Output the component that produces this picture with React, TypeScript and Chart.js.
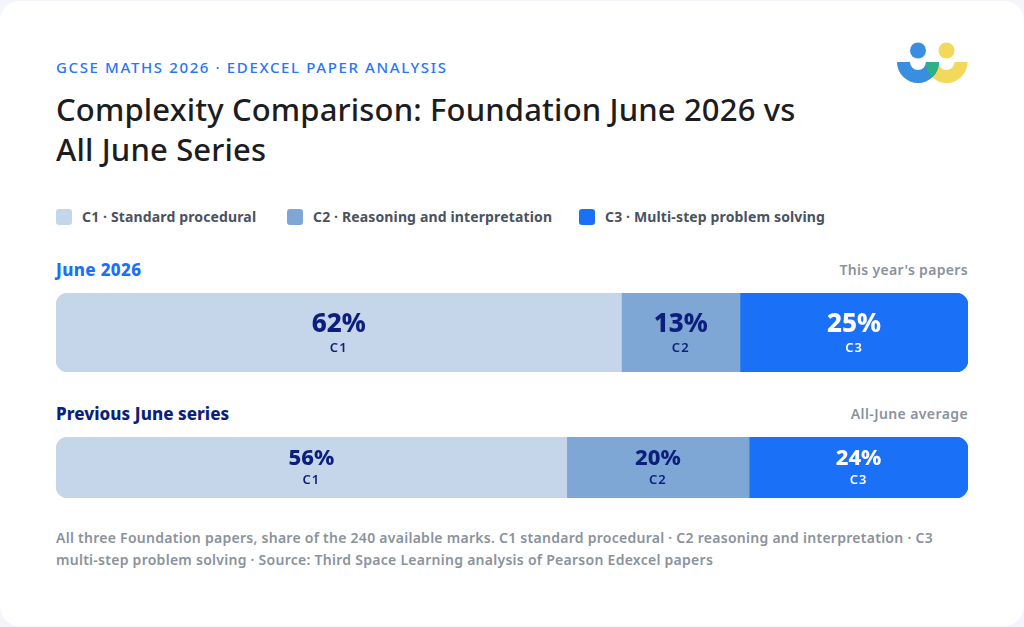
import { useEffect, useRef } from 'react';
import { Chart, registerables } from 'chart.js';
import type { Plugin } from 'chart.js';

Chart.register(...registerables);

const FONT = '"Noto Sans", sans-serif';

const BANDS = ['C1', 'C2', 'C3'];
const BAND_NAMES = ['Standard procedural', 'Reasoning and interpretation', 'Multi-step problem solving'];
const BAND_COLORS = ['#c5d5ea', '#7fa7d6', '#1b70f8'];
const LABEL_COLORS = ['#0d1f7c', '#0d1f7c', '#ffffff'];

const JUNE_2026 = [62, 13, 25];
const PREVIOUS_JUNE = [56, 20, 24];

// one canvas per bar, the two rows have different heights
function StackedBar({
  name,
  values,
  top,
  height,
  valueSize,
  valueOffset,
  bandOffset,
}: {
  name: string;
  values: number[];
  top: number;
  height: number;
  valueSize: number;
  valueOffset: number;
  bandOffset: number;
}) {
  const canvasRef = useRef<HTMLCanvasElement | null>(null);

  useEffect(() => {
    const canvas = canvasRef.current;
    if (!canvas) return;

    const segmentLabels: Plugin<'bar'> = {
      id: 'segmentLabels',
      afterDatasetsDraw(chart) {
        const ctx = chart.ctx;
        ctx.save();
        ctx.textAlign = 'center';
        ctx.textBaseline = 'middle';
        chart.data.datasets.forEach((ds, i) => {
          const bar = chart.getDatasetMeta(i).data[0] as any;
          const x = bar.base + (bar.x - bar.base) / 2;
          ctx.fillStyle = LABEL_COLORS[i];
          ctx.font = `800 ${valueSize}px ${FONT}`;
          ctx.fillText(`${ds.data[0]}%`, x, bar.y + valueOffset);
          ctx.font = `600 13px ${FONT}`;
          (ctx as any).letterSpacing = '1px';
          ctx.fillText(BANDS[i], x, bar.y + bandOffset);
          (ctx as any).letterSpacing = '0px';
        });
        ctx.restore();
      },
    };

    const chart = new Chart(canvas, {
      type: 'bar',
      data: {
        labels: [name],
        datasets: BANDS.map((band, i) => ({
          label: band,
          data: [values[i]],
          backgroundColor: BAND_COLORS[i],
          borderWidth: 0,
          borderSkipped: false,
          borderRadius:
            i === 0
              ? { topLeft: 12, bottomLeft: 12, topRight: 0, bottomRight: 0 }
              : i === 2
                ? { topLeft: 0, bottomLeft: 0, topRight: 12, bottomRight: 12 }
                : 0,
          barPercentage: 1,
          categoryPercentage: 1,
        })),
      },
      options: {
        indexAxis: 'y',
        animation: false,
        responsive: false,
        maintainAspectRatio: false,
        layout: { padding: 0 },
        plugins: { legend: { display: false }, tooltip: { enabled: false } },
        scales: {
          x: { stacked: true, min: 0, max: 100, display: false },
          y: { stacked: true, display: false },
        },
      },
      plugins: [segmentLabels],
    });

    return () => chart.destroy();
  }, [name, values, valueSize, valueOffset, bandOffset]);

  return (
    <canvas
      ref={canvasRef}
      width={912}
      height={height}
      style={{ position: 'absolute', left: 56, top, width: 912, height }}
    />
  );
}

function Logo() {
  const halfRing = (cx: number) => `M${cx - 21} 62 A21 21 0 0 0 ${cx + 21} 62 L${cx + 8} 62 A8 8 0 0 1 ${cx - 8} 62 Z`;
  const blue = halfRing(918);
  const yellow = halfRing(946.5);
  return (
    <svg width={1024} height={627} style={{ position: 'absolute', left: 0, top: 0 }}>
      <defs>
        <clipPath id="blueRing">
          <path d={blue} />
        </clipPath>
      </defs>
      <circle cx={918} cy={50.5} r={8} fill="#3a8ee0" />
      <circle cx={946.5} cy={50.5} r={8} fill="#f2d95c" />
      <path d={yellow} fill="#f2d95c" />
      <path d={blue} fill="#3a8ee0" />
      <path d={yellow} fill="#2db08a" clipPath="url(#blueRing)" />
    </svg>
  );
}

function Text({ left, right, top, style, children }: any) {
  return (
    <div style={{ position: 'absolute', left, right, top, whiteSpace: 'nowrap', ...style }}>{children}</div>
  );
}

export default function App() {
  const legendLefts = [56, 287, 579];
  return (
    <div
      style={{
        position: 'absolute',
        left: 0,
        top: 0,
        width: 1024,
        height: 627,
        overflow: 'hidden',
        background: '#f3f5fa',
        fontFamily: FONT,
      }}
    >
      <div
        style={{
          position: 'absolute',
          left: 0,
          top: 1,
          width: 1024,
          height: 625,
          background: '#fff',
          borderRadius: 20,
        }}
      />
      <Logo />

      <Text left={56} top={57} style={{ fontSize: 15, lineHeight: '20px', fontWeight: 500, letterSpacing: 1.63, color: '#2a75f6' }}>
        GCSE MATHS 2026 · EDEXCEL PAPER ANALYSIS
      </Text>
      <Text left={56} top={89} style={{ fontSize: 31, lineHeight: '40px', fontWeight: 500, letterSpacing: 0.15, color: '#1d1d1f' }}>
        Complexity Comparison: Foundation June 2026 vs
        <br />
        All June Series
      </Text>

      {BANDS.map((band, i) => (
        <div key={band}>
          <div
            style={{
              position: 'absolute',
              left: legendLefts[i],
              top: 209,
              width: 16,
              height: 16,
              borderRadius: 3,
              background: BAND_COLORS[i],
            }}
          />
          <Text left={legendLefts[i] + 26} top={207} style={{ fontSize: 14, lineHeight: '20px', fontWeight: 700, letterSpacing: 0.14, color: '#4a5260' }}>
            {`${band} · ${BAND_NAMES[i]}`}
          </Text>
        </div>
      ))}

      <Text left={56} top={259} style={{ fontSize: 17, lineHeight: '22px', fontWeight: 800, letterSpacing: 0.35, color: '#1b70f8' }}>
        June 2026
      </Text>
      <Text right={56} top={260} style={{ fontSize: 14, lineHeight: '20px', fontWeight: 600, letterSpacing: 0.33, color: '#8a929c' }}>
        This year's papers
      </Text>
      <StackedBar name="June 2026" values={JUNE_2026} top={293} height={79} valueSize={26} valueOffset={-8} bandOffset={16} />

      <Text left={56} top={403} style={{ fontSize: 17, lineHeight: '22px', fontWeight: 800, letterSpacing: 0.05, color: '#0d1f7c' }}>
        Previous June series
      </Text>
      <Text right={56} top={404} style={{ fontSize: 14, lineHeight: '20px', fontWeight: 600, letterSpacing: 0.4, color: '#8a929c' }}>
        All-June average
      </Text>
      <StackedBar name="Previous June series" values={PREVIOUS_JUNE} top={437} height={61} valueSize={22} valueOffset={-8.5} bandOffset={12.5} />

      <Text left={56} top={527} style={{ fontSize: 14, lineHeight: '22px', fontWeight: 600, letterSpacing: 0.27, color: '#8a929c' }}>
        All three Foundation papers, share of the 240 available marks. C1 standard procedural · C2 reasoning and interpretation · C3
        <br />
        multi-step problem solving · Source: Third Space Learning analysis of Pearson Edexcel papers
      </Text>
    </div>
  );
}
